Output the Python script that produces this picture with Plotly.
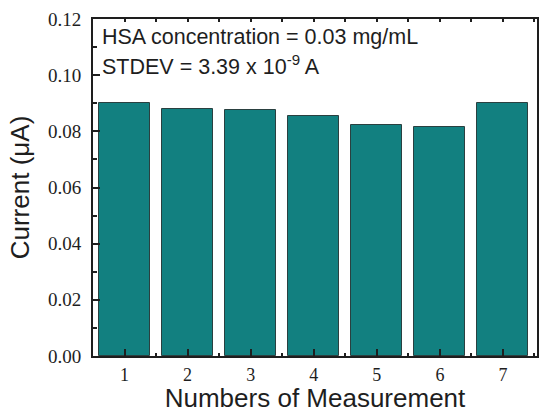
import plotly.graph_objects as go

measurements = [1, 2, 3, 4, 5, 6, 7]
current_uA = [0.0900, 0.0879, 0.0876, 0.0854, 0.0823, 0.0817, 0.0902]
y_ticks = [0.00, 0.02, 0.04, 0.06, 0.08, 0.10, 0.12]
y_tick_labels = ["0.00", "0.02", "0.04", "0.06", "0.08", "0.10", "0.12"]

INK = "#1e1e1e"
fig = go.Figure()
fig.add_trace(go.Bar(
    x=measurements, y=current_uA, width=0.81,
    marker=dict(color="#128080", line=dict(color="#2a4040", width=1)),
))
# invisible trace on top axis to display top ticks
fig.add_trace(go.Scatter(x=[measurements[0]], y=[0], xaxis="x2", mode="markers",
                         marker=dict(opacity=0), hoverinfo="skip", showlegend=False))

fig.update_layout(
    xaxis=dict(
        range=[0.5, 7.54], tickvals=measurements, ticktext=[str(m) for m in measurements],
        showline=True, linecolor=INK, linewidth=2, mirror=True,
        ticks="inside", ticklen=7, tickwidth=1.5, tickcolor=INK,
        minor=dict(ticks="inside", ticklen=3, tickwidth=1.5, tickcolor=INK, dtick=0.5, tick0=0.5),
        showgrid=False, zeroline=False,
        tickfont=dict(family="Liberation Serif", size=18, color=INK), ticklabelstandoff=1,
        title=dict(text="Numbers of Measurement", font=dict(family="Liberation Sans", size=26, color=INK), standoff=8),
    ),
    xaxis2=dict(
        overlaying="x", side="top", matches="x", range=[0.5, 7.54],
        tickvals=measurements, showticklabels=False,
        ticks="inside", ticklen=3, tickwidth=1.5, tickcolor=INK,
        minor=dict(ticks="inside", ticklen=3, tickwidth=1.5, tickcolor=INK, dtick=0.5, tick0=0.5),
        showgrid=False, zeroline=False, showline=False,
    ),
    yaxis=dict(
        range=[0, 0.12], tickvals=y_ticks, ticktext=y_tick_labels,
        showline=True, linecolor=INK, linewidth=2, mirror=True,
        ticks="inside", ticklen=7, tickwidth=1.5, tickcolor=INK,
        minor=dict(ticks="inside", ticklen=4, tickwidth=1.5, tickcolor=INK, dtick=0.01, tick0=0),
        showgrid=False, zeroline=False,
        tickfont=dict(family="Liberation Serif", size=19, color=INK), ticklabelstandoff=6,
        title=dict(text="Current (μA)", font=dict(family="Liberation Sans", size=26, color=INK), standoff=11),
    ),
    width=541, height=413, margin=dict(l=93, r=2, t=19, b=53),
    plot_bgcolor="white", paper_bgcolor="white", showlegend=False, bargap=0,
)

fig.add_annotation(x=0, y=1, xref="paper", yref="paper", xanchor="left", yanchor="middle",
                   xshift=7, yshift=-18, showarrow=False,
                   text="HSA concentration = 0.03 mg/mL",
                   font=dict(family="Liberation Sans", size=21.5, color=INK))
fig.add_annotation(x=0, y=1, xref="paper", yref="paper", xanchor="left", yanchor="middle",
                   xshift=7, yshift=-46, showarrow=False,
                   text="STDEV = 3.39 x 10<sup>-9</sup> A",
                   font=dict(family="Liberation Sans", size=21.5, color=INK))

fig.write_html("out.html")
